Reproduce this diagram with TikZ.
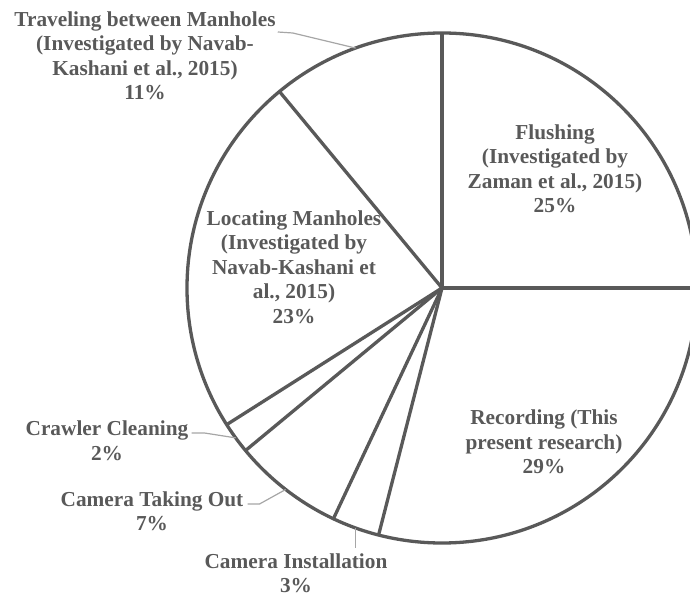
\documentclass[tikz,border=0pt]{standalone}
\usepackage{fontspec}
\setmainfont{Liberation Serif}
\usetikzlibrary{calc}
\definecolor{slice}{HTML}{595959}
\definecolor{leadc}{HTML}{A6A6A6}
\begin{document}
\begin{tikzpicture}[x=1pt,y=1pt,
  pielabel/.style={font=\bfseries\fontsize{21.3}{24.5}\selectfont, text=slice,
    align=center, inner sep=0pt},
  rim/.style={draw=slice, line width=3.3pt, line join=round},
  leader/.style={draw=leadc, line width=1.2pt}]
\useasboundingbox (0,0) rectangle (690,597);
\clip (0,0) rectangle (690,597);

% pie centre and slice boundaries (clockwise from 12 o'clock)
\coordinate (c) at (442,309);
\foreach \a/\n in {90/b1, 0/b2, -104.4/b3, -115.2/b4, -140.4/b5, -147.6/b6, 129.6/b7}
  \coordinate (\n) at ($(c)+(\a:255)$);
% rim points where the leader lines meet the pie
\coordinate (mTrav) at ($(c)+(109.8:255)$);
\coordinate (mInst) at ($(c)+(-109.8:255)$);
\coordinate (mOut)  at ($(c)+(-127.8:255)$);
\coordinate (mCraw) at ($(c)+(-144:255)$);

% outline and slice edges
\draw[rim] (c) circle[radius=255];
\foreach \n in {b1,b2,b3,b4,b5,b6,b7}
  \draw[rim] (c) -- (\n);

% labels
\node[pielabel] (flush) at (555,428) {Flushing\\(Investigated by\\Zaman et al., 2015)\\25\%};
\node[pielabel] (rec) at (544,155) {Recording (This\\present research)\\29\%};
\node[pielabel] (loc) at (294,330) {Locating Manholes\\(Investigated by\\Navab-Kashani et\\al., 2015)\\23\%};
\node[pielabel] (trav) at (145,541) {Traveling between Manholes\\(Investigated by Navab-\\Kashani et al., 2015)\\11\%};
\node[pielabel] (craw) at (107,156) {Crawler Cleaning\\2\%};
\node[pielabel] (tout) at (152,86) {Camera Taking Out\\7\%};
\node[pielabel] (inst) at (296,24) {Camera Installation\\3\%};

% leader lines
\coordinate (yTrav) at (0,565);
\coordinate (yCraw) at (0,164);
\coordinate (yOut)  at (0,93);
\draw[leader] ([xshift=2pt]trav.east |- yTrav) -- ++(15,-1) -- (mTrav);
\draw[leader] ([xshift=3pt]craw.east |- yCraw) -- ++(13,0) -- (mCraw);
\draw[leader] ([xshift=4pt]tout.east |- yOut) -- ++(12,0) -- (mOut);
\draw[leader] (mInst) -- ([yshift=5pt]mInst |- inst.north);
\end{tikzpicture}
\end{document}
